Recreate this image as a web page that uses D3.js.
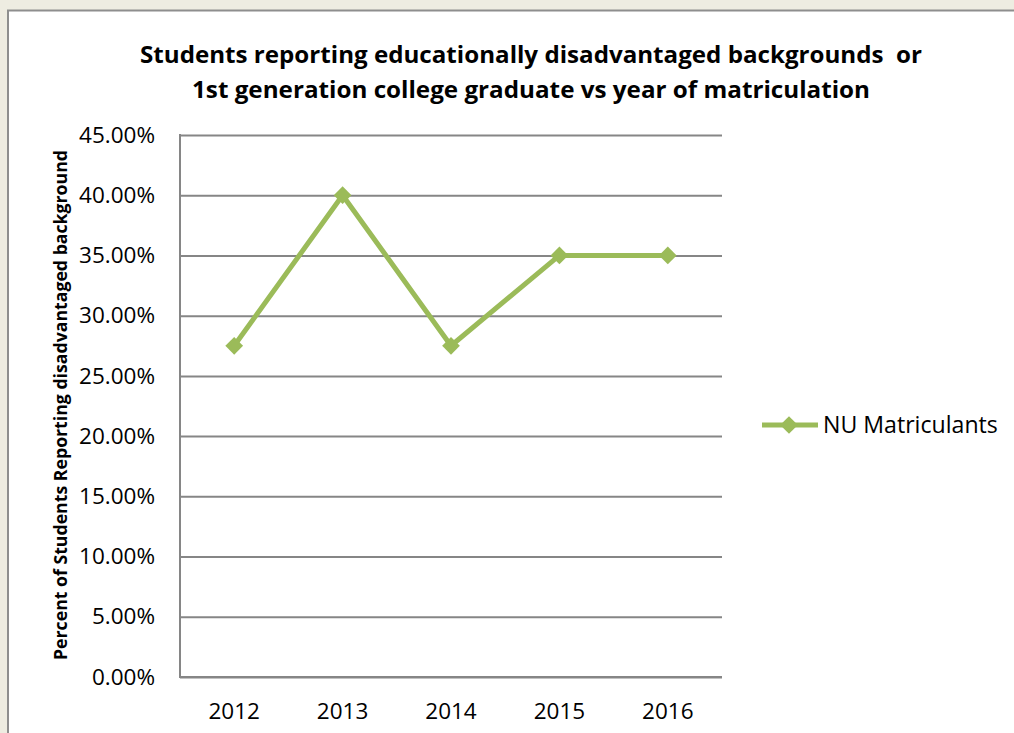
<!DOCTYPE html>
<html>
<head>
<meta charset="utf-8">
<script src="https://cdn.jsdelivr.net/npm/d3@7"></script>
<style>
  html, body { margin: 0; padding: 0; background: #EEECE1; }
  svg { display: block; font-family: "Open Sans", Lato, sans-serif; }
  text { white-space: pre; font-variant-ligatures: none; }
</style>
</head>
<body>
<svg id="chart" width="1014" height="733"></svg>
<script>
// Data
const years = ["2012", "2013", "2014", "2015", "2016"];
const nuMatriculants = [0.275, 0.40, 0.275, 0.35, 0.35];
const yTicks = [0, 0.05, 0.10, 0.15, 0.20, 0.25, 0.30, 0.35, 0.40, 0.45];
const seriesName = "NU Matriculants";
const titleLines = [
  "Students reporting educationally disadvantaged backgrounds  or",
  "1st generation college graduate vs year of matriculation"
];
const yAxisTitle = "Percent of Students Reporting disadvantaged background";

const svg = d3.select("#chart");
const W = 1014, H = 733;
const green = "#9BBB59";
const gridGrey = "#868686";
const font = "'Open Sans', Lato, sans-serif";

// Scale a text element's font size so it spans the given width
function fitWidth(sel, target) {
  const node = sel.node();
  const size = parseFloat(sel.attr("font-size"));
  const w = node.getComputedTextLength();
  if (w > 0) sel.attr("font-size", (size * target / w).toFixed(2));
  return sel;
}

// Page background and chart panel
svg.append("rect").attr("width", W).attr("height", H).attr("fill", "#EEECE1");
svg.append("rect")
  .attr("x", 8).attr("y", 10.5)
  .attr("width", W + 20).attr("height", H + 20)
  .attr("fill", "#ffffff")
  .attr("stroke", "#8E8E8E").attr("stroke-width", 2);

// Plot area
const plot = { left: 180, top: 135, right: 722, bottom: 677 };

const x = d3.scaleBand().domain(years).range([plot.left, plot.right]);
const y = d3.scaleLinear().domain([0, 0.45]).range([plot.bottom, plot.top]);

// Horizontal gridlines with percentage labels
const yAxis = d3.axisLeft(y)
  .tickValues(yTicks)
  .tickSize(-(plot.right - plot.left))
  .tickPadding(25)
  .tickFormat(d3.format(".2%"));

const gy = svg.append("g")
  .attr("transform", `translate(${plot.left},0)`)
  .call(yAxis);
gy.select(".domain").remove();
gy.selectAll(".tick line").attr("stroke", gridGrey).attr("stroke-width", 2);
gy.selectAll(".tick text")
  .attr("fill", "#000")
  .attr("font-size", 22.5)
  .attr("font-family", font);

// Category axis
const xAxis = d3.axisBottom(x).tickSize(0).tickPadding(26);
const gx = svg.append("g")
  .attr("transform", `translate(0,${plot.bottom})`)
  .call(xAxis);
gx.select(".domain").remove();
gx.selectAll(".tick text")
  .attr("fill", "#000")
  .attr("font-size", 22.5)
  .attr("font-family", font);

// Axis lines
svg.append("line")
  .attr("x1", plot.left).attr("x2", plot.left)
  .attr("y1", plot.top - 1).attr("y2", plot.bottom + 1)
  .attr("stroke", gridGrey).attr("stroke-width", 2);
svg.append("line")
  .attr("x1", plot.left).attr("x2", plot.right)
  .attr("y1", plot.bottom).attr("y2", plot.bottom)
  .attr("stroke", gridGrey).attr("stroke-width", 2);

// Series line
const pts = years.map((yr, i) => ({ yr, v: nuMatriculants[i] }));
const line = d3.line()
  .x(d => x(d.yr) + x.bandwidth() / 2)
  .y(d => y(d.v));

svg.append("path")
  .datum(pts)
  .attr("d", line)
  .attr("fill", "none")
  .attr("stroke", green)
  .attr("stroke-width", 5)
  .attr("stroke-linejoin", "round");

const diamond = d3.symbol().type(d3.symbolDiamond2).size(200);
svg.selectAll(".marker")
  .data(pts)
  .join("path")
  .attr("class", "marker")
  .attr("d", diamond)
  .attr("transform", d => `translate(${x(d.yr) + x.bandwidth() / 2},${y(d.v)})`)
  .attr("fill", green);

// Legend
const legend = svg.append("g").attr("transform", "translate(762,425)");
legend.append("line")
  .attr("x1", 0).attr("x2", 56)
  .attr("stroke", green).attr("stroke-width", 5);
legend.append("path")
  .attr("d", diamond)
  .attr("transform", "translate(27,0)")
  .attr("fill", green);
const legendText = legend.append("text")
  .attr("x", 61).attr("y", 0)
  .attr("dy", "0.36em")
  .attr("font-size", 22)
  .text(seriesName);
fitWidth(legendText, 175);

// Title (two centred lines)
const titleLayout = [
  { y: 62.5, width: 782 },
  { y: 98, width: 678 }
];
svg.selectAll(".title")
  .data(titleLines)
  .join("text")
  .attr("class", "title")
  .attr("x", 531)
  .attr("y", (d, i) => titleLayout[i].y)
  .attr("text-anchor", "middle")
  .attr("font-family", font)
  .attr("font-weight", "bold")
  .attr("font-size", 24)
  .attr("textLength", (d, i) => titleLayout[i].width)
  .attr("lengthAdjust", "spacingAndGlyphs")
  .text(d => d);

// Y axis title
svg.append("text")
  .attr("transform", `translate(66.5,${(plot.top + plot.bottom) / 2 - 1}) rotate(-90)`)
  .attr("text-anchor", "middle")
  .attr("font-family", font)
  .attr("font-weight", "bold")
  .attr("font-size", 17.5)
  .attr("textLength", 510)
  .attr("lengthAdjust", "spacingAndGlyphs")
  .text(yAxisTitle);
</script>
</body>
</html>
